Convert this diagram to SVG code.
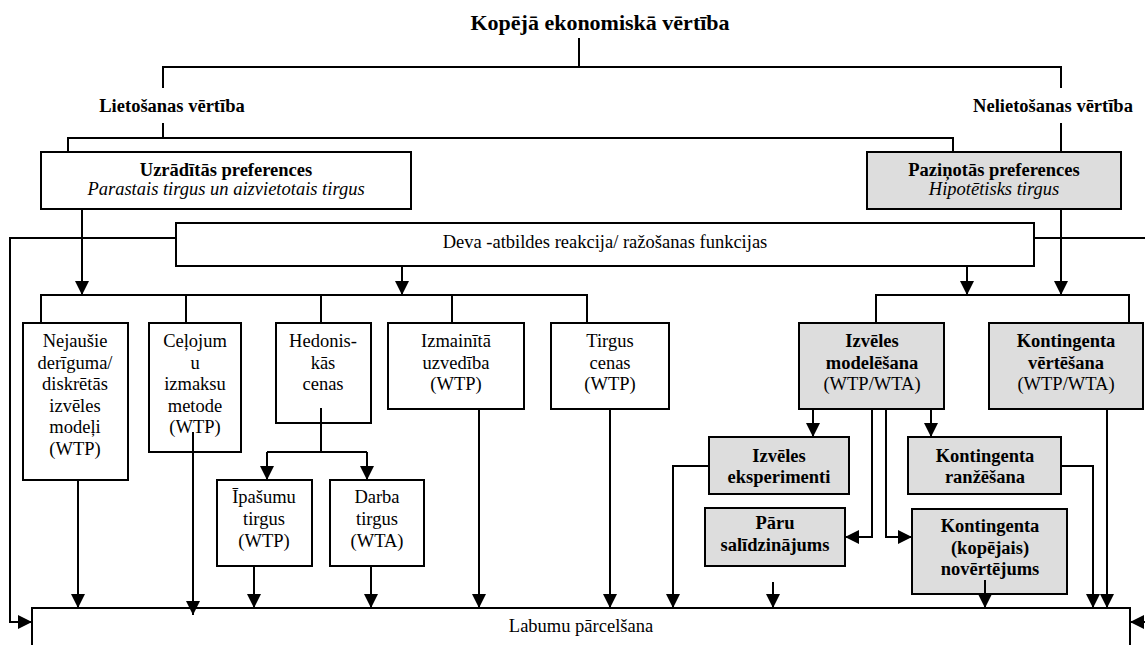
<svg xmlns="http://www.w3.org/2000/svg" width="1145" height="645" viewBox="0 0 1145 645">
<defs>
<style>
text{font-family:"Liberation Serif","Times New Roman",serif;font-size:18.5px;fill:#000;text-anchor:middle}
.b{font-weight:bold}
.i{font-style:italic}
.t{font-size:22px;font-weight:bold}
.box{fill:#fff;stroke:#000;stroke-width:2}
.g{fill:#dddddd;stroke:#000;stroke-width:2}
.c path{fill:none;stroke:#000;stroke-width:2}
</style>
<marker id="a" markerUnits="userSpaceOnUse" markerWidth="14" markerHeight="14" refX="14" refY="7" orient="auto">
<path d="M0,0 L14,7 L0,14 z" fill="#000"/>
</marker>
</defs>
<rect width="1145" height="645" fill="#fff"/>

<g id="title"><text class="t" x="600" y="30">Kopējā ekonomiskā vērtība</text></g>
<g id="lietosanas"><text class="b" x="172" y="112">Lietošanas vērtība</text></g>
<g id="nelietosanas"><text class="b" x="1053" y="112">Nelietošanas vērtība</text></g>

<g id="uzraditas"><rect class="box" x="41" y="152" width="370" height="57"/>
<text class="b" x="226" y="176">Uzrādītās preferences</text>
<text class="i" x="226" y="195">Parastais tirgus un aizvietotais tirgus</text></g>

<g id="pazinotas"><rect class="g" x="867" y="152" width="254" height="57"/>
<text class="b" x="994" y="176">Paziņotās preferences</text>
<text class="i" x="994" y="195">Hipotētisks tirgus</text></g>

<g id="deva"><rect class="box" x="176" y="223" width="858" height="43"/>
<text x="605" y="248">Deva -atbildes reakcija/ ražošanas funkcijas</text></g>

<g id="labumu"><rect class="box" x="32" y="608" width="1098" height="60"/>
<text x="581" y="632">Labumu pārcelšana</text></g>

<g id="nejausie"><rect class="box" x="23" y="323" width="105" height="157"/>
<text x="75" y="347">Nejaušie</text><text x="75" y="369">derīguma/</text><text x="75" y="390">diskrētās</text><text x="75" y="412">izvēles</text><text x="75" y="433">modeļi</text><text x="75" y="455">(WTP)</text></g>

<g id="celojumu"><rect class="box" x="149" y="323" width="92" height="129"/>
<text x="195" y="347">Ceļojum</text><text x="195" y="369">u</text><text x="195" y="390">izmaksu</text><text x="195" y="412">metode</text><text x="195" y="433">(WTP)</text></g>

<g id="hedoniskas"><rect class="box" x="276" y="323" width="95" height="100"/>
<text x="323" y="347">Hedonis-</text><text x="323" y="369">kās</text><text x="323" y="390">cenas</text></g>

<g id="ipasumu"><rect class="box" x="217" y="480" width="95" height="86"/>
<text x="264" y="503">Īpašumu</text><text x="264" y="525">tirgus</text><text x="264" y="547">(WTP)</text></g>

<g id="darba"><rect class="box" x="330" y="480" width="94" height="86"/>
<text x="377" y="503">Darba</text><text x="377" y="525">tirgus</text><text x="377" y="547">(WTA)</text></g>

<g id="izmainita"><rect class="box" x="388" y="323" width="136" height="86"/>
<text x="456" y="347">Izmainītā</text><text x="456" y="369">uzvedība</text><text x="456" y="390">(WTP)</text></g>

<g id="tirgus"><rect class="box" x="551" y="323" width="118" height="86"/>
<text x="610" y="347">Tirgus</text><text x="610" y="369">cenas</text><text x="610" y="390">(WTP)</text></g>

<g id="izveles-modelesana"><rect class="g" x="799" y="323" width="145" height="86"/>
<text class="b" x="872" y="347">Izvēles</text><text class="b" x="872" y="369">modelēšana</text><text x="872" y="390">(WTP/WTA)</text></g>

<g id="kontingenta-vertesana"><rect class="g" x="989" y="323" width="154" height="86"/>
<text class="b" x="1066" y="347">Kontingenta</text><text class="b" x="1066" y="369">vērtēšana</text><text x="1066" y="390">(WTP/WTA)</text></g>

<g id="izveles-eksperimenti"><rect class="g" x="709" y="437" width="140" height="57"/>
<text class="b" x="779" y="462">Izvēles</text><text class="b" x="779" y="483">eksperimenti</text></g>

<g id="paru"><rect class="g" x="705" y="508" width="140" height="58"/>
<text class="b" x="775" y="529">Pāru</text><text class="b" x="775" y="551">salīdzinājums</text></g>

<g id="kontingenta-ranzesana"><rect class="g" x="908" y="437" width="153" height="57"/>
<text class="b" x="985" y="462">Kontingenta</text><text class="b" x="985" y="483">ranžēšana</text></g>

<g id="kontingenta-novertejums"><rect class="g" x="912" y="509" width="155" height="85"/>
<text class="b" x="990" y="532">Kontingenta</text><text class="b" x="990" y="554">(kopējais)</text><text class="b" x="990" y="575">novērtējums</text></g>

<g id="connectors" class="c">
<path d="M579,38 V67"/>
<path d="M163,88 V67 H1061 V88"/>
<path d="M163,123 V138"/>
<path d="M68,152 V138 H953 V152"/>
<path d="M1061,123 V152"/>
<path d="M82,209 V295" marker-end="url(#a)"/>
<path d="M41,323 V295 H587 V323"/>
<path d="M186,295 V323"/>
<path d="M321,295 V323"/>
<path d="M452,295 V323"/>
<path d="M402,266 V295" marker-end="url(#a)"/>
<path d="M176,238 H10 V622 H32" marker-end="url(#a)"/>
<path d="M1034,238 H1150 V622 H1130" marker-end="url(#a)"/>
<path d="M967,266 V295" marker-end="url(#a)"/>
<path d="M1061,209 V295" marker-end="url(#a)"/>
<path d="M876,323 V295 H1129 V323"/>
<path d="M78,480 V608" marker-end="url(#a)"/>
<path d="M193,432 V615" marker-end="url(#a)"/>
<path d="M321,408 V452"/>
<path d="M267,452 H367"/>
<path d="M267,452 V480" marker-end="url(#a)"/>
<path d="M367,452 V480" marker-end="url(#a)"/>
<path d="M254,566 V608" marker-end="url(#a)"/>
<path d="M371,566 V608" marker-end="url(#a)"/>
<path d="M479,409 V608" marker-end="url(#a)"/>
<path d="M610,409 V608" marker-end="url(#a)"/>
<path d="M709,466 H673 V608" marker-end="url(#a)"/>
<path d="M773,582 V608" marker-end="url(#a)"/>
<path d="M985,580 V608" marker-end="url(#a)"/>
<path d="M1061,466 H1093 V608" marker-end="url(#a)"/>
<path d="M1107,409 V608" marker-end="url(#a)"/>
<path d="M813,409 V437" marker-end="url(#a)"/>
<path d="M931,409 V437" marker-end="url(#a)"/>
<path d="M872,409 V537 H845" marker-end="url(#a)"/>
<path d="M886,409 V537 H912" marker-end="url(#a)"/>
</g>
</svg>
